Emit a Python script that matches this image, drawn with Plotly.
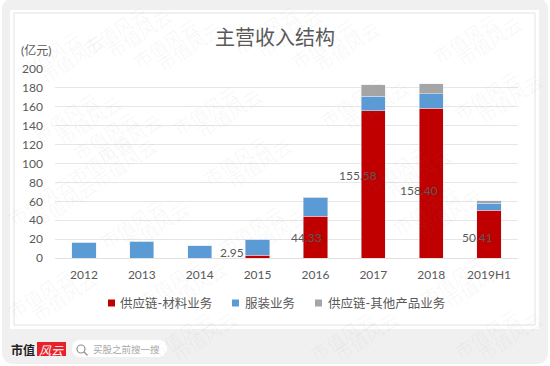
import plotly.graph_objects as go

categories = ["2012", "2013", "2014", "2015", "2016", "2017", "2018", "2019H1"]
material = [0, 0, 0, 2.95, 44.33, 155.58, 158.40, 50.41]
apparel = [16.5, 17.5, 13, 17, 19.5, 15.5, 15.5, 7.5]
other = [0, 0, 0, 0, 0.3, 12, 10.5, 2.8]
series_names = ["供应链-材料业务", "服装业务", "供应链-其他产品业务"]
series_colors = ["#C00000", "#5B9BD5", "#A5A5A5"]
label_dx = [0, 0, 0, -26, -9, -15, -12, -12]
label_y = [0, 0, 0, 6, 22, 87, 71, 22]

FONT = "Lato, 'Noto Sans CJK SC', sans-serif"
CJK = "'Noto Sans CJK SC'"
TXT = "#595959"
W, H = 550, 366
L, R, T, B = 55, 32, 69, 108


def px(x):
    return (x - L) / (W - L - R)


def py(y):
    return 1 - (y - T) / (H - T - B)


fig = go.Figure()
for name, vals, col in zip(series_names, [material, apparel, other], series_colors):
    fig.add_bar(name=name, x=categories, y=vals, marker_color=col, showlegend=False)


def rounded(x0, y0, x1, y1, r, color):
    out = [
        dict(type="rect", x0=px(x0 + r), x1=px(x1 - r), y0=py(y1), y1=py(y0)),
        dict(type="rect", x0=px(x0), x1=px(x1), y0=py(y1 - r), y1=py(y0 + r)),
    ]
    for cx, cy in [(x0, y0), (x1 - 2 * r, y0), (x0, y1 - 2 * r), (x1 - 2 * r, y1 - 2 * r)]:
        out.append(dict(type="circle", x0=px(cx), x1=px(cx + 2 * r), y0=py(cy + 2 * r), y1=py(cy)))
    for s in out:
        s.update(xref="paper", yref="paper", fillcolor=color, line_width=0, layer="below")
    return out


shapes = rounded(2, -2, 548, 364, 11, "#F0F0F0")
shapes += [
    dict(type="rect", xref="paper", yref="paper", x0=px(10), x1=px(539), y0=py(329), y1=py(10),
         fillcolor="white", line_width=0, layer="below"),
    dict(type="rect", xref="paper", yref="paper", x0=px(14), x1=px(535), y0=py(325), y1=py(13),
         fillcolor="white", line=dict(color="#E2E2E2", width=1), layer="below"),
    dict(type="rect", xref="paper", yref="paper", x0=px(37), x1=px(66), y0=py(356), y1=py(342),
         fillcolor="#E8202A", line_width=0, layer="below"),
]
shapes += rounded(72, 340, 167, 357, 8, "white")
shapes += [
    dict(type="circle", xref="paper", yref="paper", x0=px(77), x1=px(85), y0=py(353), y1=py(345),
         fillcolor="rgba(0,0,0,0)", line=dict(color="#909090", width=1.2)),
    dict(type="line", xref="paper", yref="paper", x0=px(84), x1=px(87.5), y0=py(352), y1=py(355.5),
         line=dict(color="#909090", width=1.2)),
]

ann = []


def paper_text(x, y, text, size, color, xanchor="center", **kw):
    ann.append(dict(x=px(x), y=py(y), xref="paper", yref="paper", showarrow=False, text=text,
                    xanchor=xanchor, yanchor="middle",
                    font=dict(size=size, color=color, family=kw.pop("family", FONT)), **kw))


wm = [(48, 55), (165, 43), (65, 117), (105, 135), (115, 30), (265, 30), (205, 110), (465, 38),
      (323, 43), (352, 102), (486, 95), (132, 223), (40, 293), (170, 283), (250, 230),
      (342, 336), (486, 333), (425, 210), (452, 280), (235, 160), (100, 160),
      (40, 200), (395, 170), (180, 336)]
for x, y in wm:
    for dx, dy in [(0, 0), (24, 3)]:
        paper_text(x + dx, min(y + dy, 336), "市值风云", 18, "rgba(140,140,140,0.065)", family=CJK,
                   textangle=-33)

for i, (v, dx, y) in enumerate(zip(material, label_dx, label_y)):
    if dx:
        ann.append(dict(x=i, y=y, xref="x", yref="y", xshift=dx, showarrow=False,
                        xanchor="center", yanchor="middle",
                        text=f"{v:.2f}", font=dict(size=12, color=TXT, family=FONT)))

paper_text(36, 51, "(亿元)", 12, TXT)
paper_text(275, 37, "主营收入结构", 20, TXT)
paper_text(23, 349, "<b>市值</b>", 12, "#222222", family=CJK)
paper_text(51.5, 349, "<i>风云</i>", 12, "white", family=CJK)
paper_text(126, 349, "买股之前搜一搜", 9.5, "#A8A8A8", family=CJK)

for name, col, sx, tx in zip(series_names, series_colors, [108, 232, 315], [118, 243, 326]):
    shapes.append(dict(type="rect", xref="paper", yref="paper", x0=px(sx), x1=px(sx + 7),
                       y0=py(306.5), y1=py(299.5), fillcolor=col, line_width=0))
    paper_text(tx, 303, name, 12.5, TXT, xanchor="left")

fig.update_layout(
    barmode="stack",
    bargap=0.58,
    width=W,
    height=H,
    autosize=False,
    margin=dict(l=L, r=R, t=T, b=B, pad=0),
    paper_bgcolor="white",
    plot_bgcolor="rgba(0,0,0,0)",
    font=dict(family=FONT, color=TXT, size=12),
    showlegend=False,
    shapes=shapes,
    annotations=ann,
    xaxis=dict(type="category", showgrid=False, showline=True, linecolor="#E2E2E2", ticks="",
               ticklabelstandoff=6, tickfont=dict(size=12, color=TXT)),
    yaxis=dict(range=[0, 200], dtick=20, showgrid=True, gridcolor="#E6E6E6", gridwidth=1,
               zeroline=False, ticks="", tickfont=dict(size=12, color=TXT), ticklabelstandoff=11),
)

fig.write_html("out.html", post_script="document.body.style.margin='0';",
               config=dict(displayModeBar=False))
